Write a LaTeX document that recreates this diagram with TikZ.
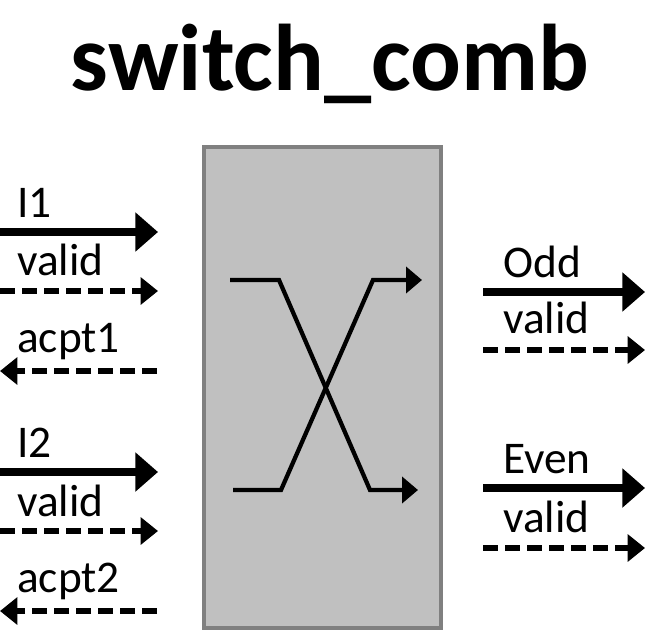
\documentclass[tikz,border=0pt]{standalone}
\usepackage{fontspec}
\setmainfont{Carlito}
\usetikzlibrary{positioning,arrows.meta}
\definecolor{boxfill}{HTML}{C0C0C0}
\definecolor{boxline}{HTML}{808080}

\begin{document}
\begin{tikzpicture}[
  x=0.75pt, y=-0.75pt,
  lbl/.style={anchor=base west, inner sep=0pt, font=\fontsize{34}{40}\selectfont},
  dataarrow/.style={line width=6.2pt, -{Triangle[length=17pt,width=28.5pt]}},
  ctrlarrow/.style={line width=4.6pt, dash pattern=on 11.25pt off 5.25pt, -{Triangle[length=13pt,width=20pt]}},
  wire/.style={line width=3.2pt, -{Triangle[length=12pt,width=19.5pt]}}
]
\useasboundingbox (0,0) rectangle (659,632);

\node[anchor=base, inner sep=0pt, font=\fontsize{71}{80}\selectfont\bfseries] (T) at (330,90) {switch\_comb};

\node[draw=boxline, fill=boxfill, line width=3pt, minimum width=177.75pt, minimum height=360.75pt] (Box) at (322.5,387.5) {};

\coordinate (ua) at (230,280);
\coordinate (ub) at (279,280);
\coordinate (uc) at (370,490);
\coordinate (ud) at (418,490);
\coordinate (la) at (233,490);
\coordinate (lb) at (281,490);
\coordinate (lc) at (373,280);
\coordinate (ld) at (422,280);
\draw[wire] (ua) -- (ub) -- (uc) -- (ud);
\draw[wire] (la) -- (lb) -- (lc) -- (ld);


\node[lbl] (I1) at (17,217) {I1};
\node[lbl] (V1) at (17,275) {valid};
\node[lbl] (A1) at (17,352) {acpt1};
\coordinate (I1w) at (0,232);
\coordinate (I1e) at (158,232);
\coordinate (V1w) at (0,291);
\coordinate (V1e) at (158,291);
\coordinate (A1w) at (0,371);
\coordinate (A1e) at (157,371);
\draw[dataarrow] (I1w) -- (I1e);
\draw[ctrlarrow] (V1w) -- (V1e);
\draw[ctrlarrow] (A1e) -- (A1w);

\node[lbl] (I2) at (17,457) {I2};
\node[lbl] (V2) at (17,516) {valid};
\node[lbl] (A2) at (17,592) {acpt2};
\coordinate (I2w) at (0,472);
\coordinate (I2e) at (158,472);
\coordinate (V2w) at (0,531);
\coordinate (V2e) at (158,531);
\coordinate (A2w) at (0,611);
\coordinate (A2e) at (157,611);
\draw[dataarrow] (I2w) -- (I2e);
\draw[ctrlarrow] (V2w) -- (V2e);
\draw[ctrlarrow] (A2e) -- (A2w);


\node[lbl] (Odd) at (503,277) {Odd};
\node[lbl] (VO) at (503,333) {valid};
\coordinate (Ow) at (483,292);
\coordinate (Oe) at (645,292);
\coordinate (VOw) at (483,350);
\coordinate (VOe) at (645,350);
\draw[dataarrow] (Ow) -- (Oe);
\draw[ctrlarrow] (VOw) -- (VOe);

\node[lbl] (Even) at (503,473) {Even};
\node[lbl] (VE) at (503,532) {valid};
\coordinate (Ew) at (483,488);
\coordinate (Ee) at (645,488);
\coordinate (VEw) at (483,548);
\coordinate (VEe) at (645,548);
\draw[dataarrow] (Ew) -- (Ee);
\draw[ctrlarrow] (VEw) -- (VEe);
\end{tikzpicture}
\end{document}
